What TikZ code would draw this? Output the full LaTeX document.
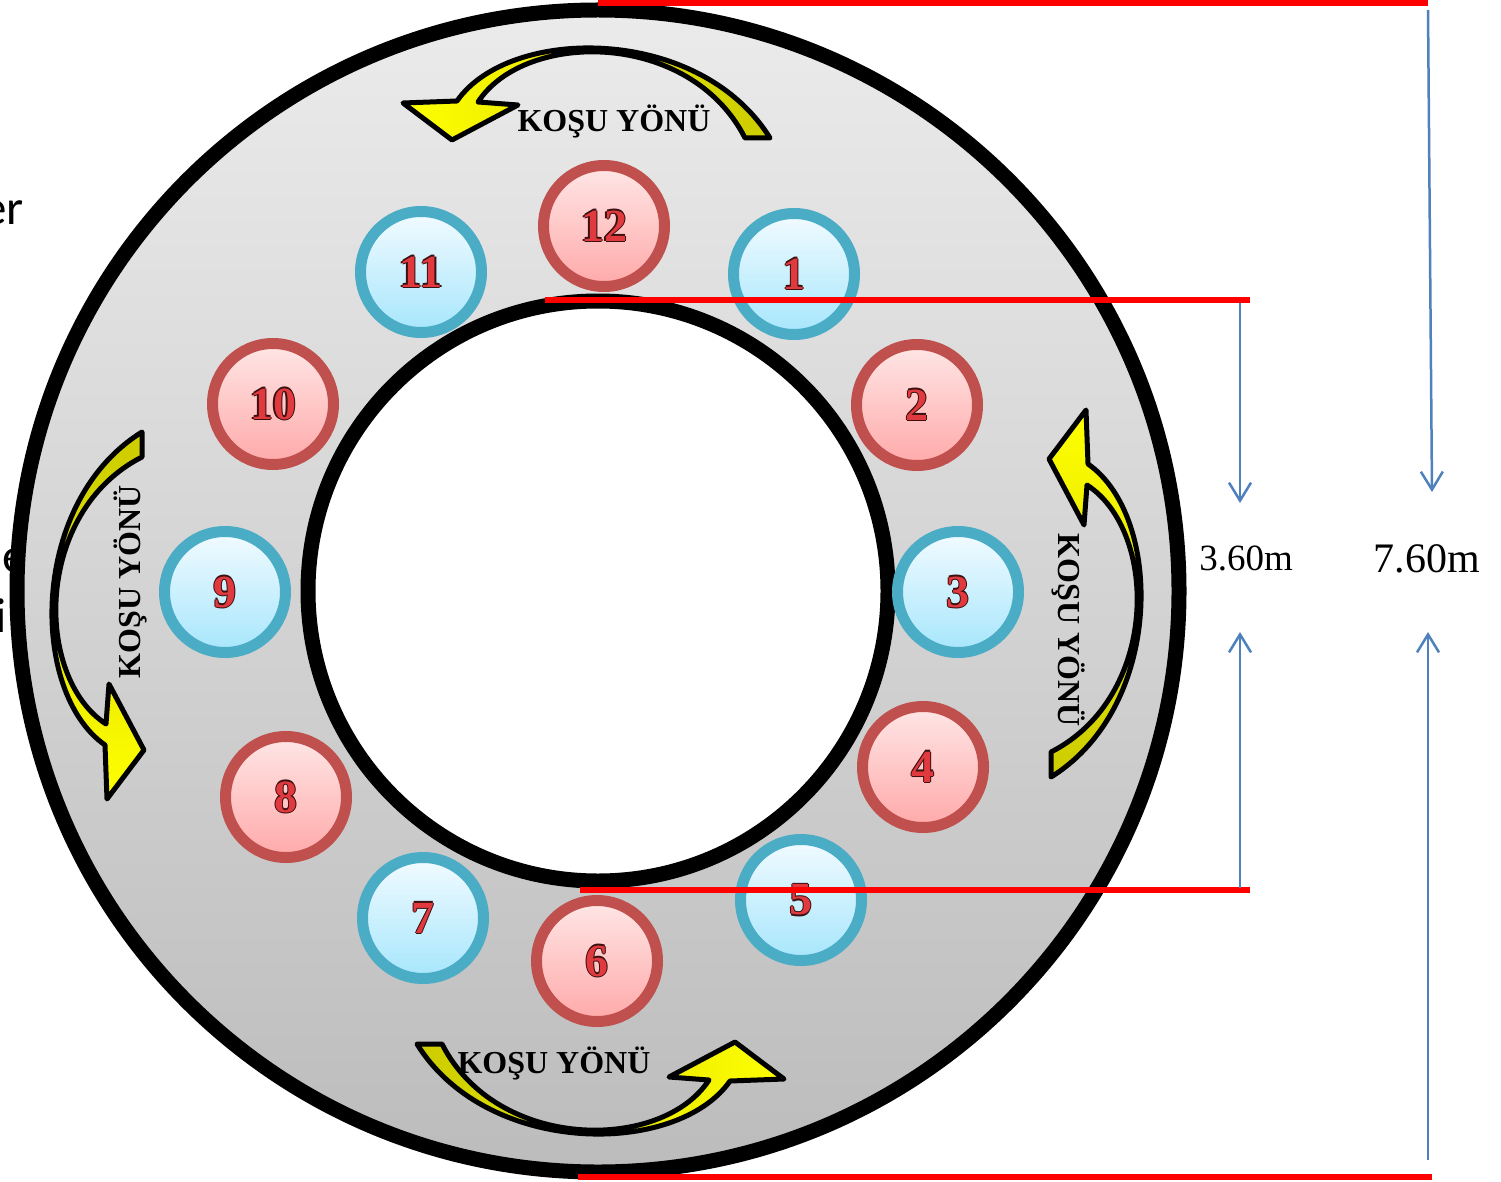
\documentclass[tikz,border=0pt]{standalone}
\usepackage{fontspec}
\setmainfont{Liberation Serif}
\newfontfamily\slidefont{Carlito}
\usepackage{xcolor}
\usetikzlibrary{arrows.meta,shadows,calc}

\definecolor{ringtop}{HTML}{EBEBEB}
\definecolor{ringbot}{HTML}{BCBCBC}
\definecolor{redring}{HTML}{C0504D}
\definecolor{redtop}{HTML}{FFE6E6}
\definecolor{redbot}{HTML}{FFA9A9}
\definecolor{bluering}{HTML}{4BACC6}
\definecolor{bluetop}{HTML}{F2FBFF}
\definecolor{bluebot}{HTML}{A6E6FC}
\definecolor{numred}{HTML}{E0393E}
\definecolor{numedge}{HTML}{3A1010}
\definecolor{yelhead}{HTML}{FFFF00}
\definecolor{yeltail}{HTML}{CCCC00}
\definecolor{dimblue}{HTML}{4F81BD}
\definecolor{dimred}{HTML}{FF0000}

% number with a dark rim
\newcommand{\ballnum}[1]{%
  \makebox[0pt]{\kern-2.6pt\color{numedge}#1}%
  \makebox[0pt]{\kern2.6pt\color{numedge}#1}%
  \makebox[0pt]{\raisebox{1.3pt}{\color{numedge}#1}}%
  \makebox[0pt]{\raisebox{-1.3pt}{\color{numedge}#1}}%
  \makebox[0pt]{\color{numred}#1}}

% curved running arrow (drawn at the top, rotated for the others)
\newcommand{\yonarrow}[1]{%
  \path[draw=black, line width=5pt, line join=round, #1]
    (403,103) -- (452,140) -- (518,105) -- (478,102)
    .. controls (525,30) and (690,30) .. (745,138)
    -- (770,138)
    .. controls (700,25) and (510,25) .. (457,101)
    -- cycle;}

\begin{document}
\begin{tikzpicture}[
    x=1pt, y=-1pt,
    redball/.style={circle, minimum size=121pt, inner sep=0pt, line width=11pt,
      draw=redring, top color=redtop, bottom color=redbot,
      drop shadow={shadow xshift=3pt, shadow yshift=-4pt, opacity=0.25},
      font=\fontsize{46}{46}\selectfont\bfseries},
    blueball/.style={redball, draw=bluering, top color=bluetop, bottom color=bluebot},
    yontext/.style={anchor=base, inner sep=0pt, font=\fontsize{32}{32}\selectfont\bfseries},
    fragtext/.style={anchor=base east, inner sep=0pt, font=\slidefont\fontsize{49}{49}\selectfont},
    dimline/.style={dimred, line width=6pt},
    dimarrow/.style={dimblue, line width=2.5pt, -{Straight Barb[length=18pt,width=22pt]}},
    dimlabel/.style={anchor=base, inner sep=0pt}
]
    \useasboundingbox (0,0) rectangle (1501,1182);
    \fill[white] (0,0) rectangle (1501,1182);

    % Cut-off slide text on the left
    \node[fragtext] (frag1) at (24,225) {er};
    \node[fragtext] (frag2) at (27,572) {e};
    \node[fragtext] (frag3) at (7,632) {i};

    % Track
    \coordinate (ring) at (598,591);
    \shade[top color=ringtop, bottom color=ringbot] (ring) circle[radius=581pt];
    \draw[line width=15pt] (ring) circle[radius=581pt];
    \filldraw[fill=white, line width=15pt] (ring) circle[radius=290pt];

    % Running direction arrows
    \yonarrow{left color=yelhead, right color=yeltail}
    \begin{scope}[rotate around={-90:(591,598)}]
        \yonarrow{top color=yelhead, bottom color=yeltail}
    \end{scope}
    \begin{scope}[rotate around={180:(593.5,591)}]
        \yonarrow{left color=yeltail, right color=yelhead}
    \end{scope}
    \begin{scope}[rotate around={90:(603,599)}]
        \yonarrow{top color=yeltail, bottom color=yelhead}
    \end{scope}

    % Direction labels
    \node[yontext] (yonT) at (614,132) {KOŞU YÖNÜ};
    \node[yontext, rotate=-90] (yonR) at (1058,630) {KOŞU YÖNÜ};
    \node[yontext] (yonB) at (554,1073) {KOŞU YÖNÜ};
    \node[yontext, rotate=90] (yonL) at (140,582) {KOŞU YÖNÜ};

    % Stations
    \node[redball]  (s12) at (604,226) {\ballnum{12}};
    \node[blueball] (s1)  at (794,274) {\ballnum{1}};
    \node[redball]  (s2)  at (917,405) {\ballnum{2}};
    \node[blueball] (s3)  at (958,592) {\ballnum{3}};
    \node[redball]  (s4)  at (923,767) {\ballnum{4}};
    \node[blueball] (s5)  at (801,900) {\ballnum{5}};
    \node[redball]  (s6)  at (597,961) {\ballnum{6}};
    \node[blueball] (s7)  at (423,918) {\ballnum{7}};
    \node[redball]  (s8)  at (286,797) {\ballnum{8}};
    \node[blueball] (s9)  at (225,592) {\ballnum{9}};
    \node[redball]  (s10) at (273,404) {\ballnum{10}};
    \node[blueball] (s11) at (421,272) {\ballnum{11}};

    % Dimension lines
    \coordinate (topL) at (598,3);
    \coordinate (topR) at (1428,3);
    \coordinate (inTopL) at (545,300);
    \coordinate (inTopR) at (1250,300);
    \coordinate (inBotL) at (580,890);
    \coordinate (inBotR) at (1250,890);
    \coordinate (botL) at (578,1177);
    \coordinate (botR) at (1432,1177);
    \draw[dimline] (topL) -- (topR);
    \draw[dimline] (inTopL) -- (inTopR);
    \draw[dimline] (inBotL) -- (inBotR);
    \draw[dimline] (botL) -- (botR);

    % Dimension labels
    \node[dimlabel, font=\fontsize{37}{37}\selectfont] (lbl36) at (1246,570) {3.60m};
    \node[dimlabel, font=\fontsize{42}{42}\selectfont] (lbl76) at (1427,572) {7.60m};

    % Dimension arrows
    \coordinate (a36top) at (1240,303);
    \coordinate (a36tip) at (1240,503);
    \coordinate (a36bot) at (1240,888);
    \coordinate (a36up) at (1240,632);
    \coordinate (a76top) at (1428,10);
    \coordinate (a76tip) at (1432,492);
    \coordinate (a76bot) at (1428,1160);
    \coordinate (a76up) at (1428,632);
    \draw[dimarrow] (a36top) -- (a36tip);
    \draw[dimarrow] (a36bot) -- (a36up);
    \draw[dimarrow] (a76top) -- (a76tip);
    \draw[dimarrow] (a76bot) -- (a76up);
\end{tikzpicture}
\end{document}
